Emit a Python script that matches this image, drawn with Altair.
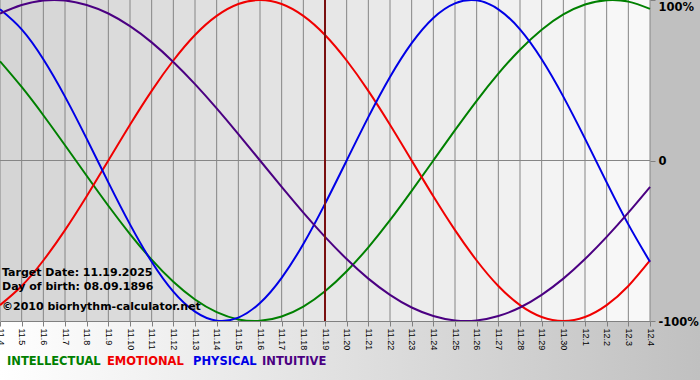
import altair as alt
import pandas as pd

# ---------------- data ----------------
dates = ["11.4", "11.5", "11.6", "11.7", "11.8", "11.9", "11.10", "11.11", "11.12",
         "11.13", "11.14", "11.15", "11.16", "11.17", "11.18", "11.19", "11.20",
         "11.21", "11.22", "11.23", "11.24", "11.25", "11.26", "11.27", "11.28",
         "11.29", "11.30", "12.1", "12.2", "12.3", "12.4"]

intellectual = [0.618, 0.458, 0.282, 0.095, -0.095, -0.282, -0.458, -0.618, -0.756,
                -0.866, -0.945, -0.990, -0.999, -0.972, -0.910, -0.815, -0.690,
                -0.541, -0.372, -0.189, 0.0, 0.189, 0.372, 0.541, 0.690, 0.815,
                0.910, 0.972, 0.999, 0.990, 0.945]
emotional = [-0.901, -0.782, -0.623, -0.434, -0.223, 0.0, 0.223, 0.434, 0.623,
             0.782, 0.901, 0.975, 1.0, 0.975, 0.901, 0.782, 0.623, 0.434, 0.223,
             0.0, -0.223, -0.434, -0.623, -0.782, -0.901, -0.975, -1.0, -0.975,
             -0.901, -0.782, -0.623]
physical = [0.942, 0.817, 0.631, 0.398, 0.136, -0.136, -0.398, -0.631, -0.817,
            -0.942, -0.998, -0.979, -0.888, -0.731, -0.520, -0.270, 0.0, 0.270,
            0.520, 0.731, 0.888, 0.979, 0.998, 0.942, 0.817, 0.631, 0.398, 0.136,
            -0.136, -0.398, -0.631]
intuitive = [0.916, 0.969, 0.997, 0.997, 0.969, 0.916, 0.837, 0.736, 0.614, 0.476,
             0.325, 0.165, 0.0, -0.165, -0.325, -0.476, -0.614, -0.736, -0.837,
             -0.916, -0.969, -0.997, -0.997, -0.969, -0.916, -0.837, -0.736,
             -0.614, -0.476, -0.325, -0.165]

series_names = ["INTELLECTUAL", "EMOTIONAL", "PHYSICAL", "INTUITIVE"]
series_colors = ["#008000", "#f00000", "#0000e6", "#4b0082"]

target_date = "11.19"
info_lines = ["Target Date: 11.19.2025", "Day of birth: 08.09.1896",
              "\u00a92010 biorhythm-calculator.net"]

y_ticks = [-1, 0, 1]
y_tick_labels = ["-100%", "0", "100%"]

# ---------------- layout ----------------
W, H = 650, 321
TOTAL_W, TOTAL_H = 700, 380

rows = []
for name, vals in zip(series_names, [intellectual, emotional, physical, intuitive]):
    for i, (d, v) in enumerate(zip(dates, vals)):
        rows.append({"i": i, "date": d, "value": v, "series": name})
df = pd.DataFrame(rows)

bands = pd.DataFrame({"start": list(range(len(dates) - 1)),
                      "end": list(range(1, len(dates))),
                      "idx": list(range(len(dates) - 1))})
grid_df = pd.DataFrame({"i": list(range(len(dates)))})
zero_df = pd.DataFrame({"value": [0]})
target_df = pd.DataFrame({"i": [dates.index(target_date)]})

xscale = alt.Scale(domain=[0, len(dates) - 1], nice=False, zero=False)
yscale = alt.Scale(domain=[-1, 1], nice=False)

x_label_expr = "[" + ",".join("'%s'" % d for d in dates) + "][datum.value]"
y_label_expr = "".join("datum.value == %s ? '%s' : " % (v, l)
                       for v, l in zip(y_ticks, y_tick_labels)) + "''"


def x_axis():
    return alt.Axis(values=list(range(len(dates))), labelExpr=x_label_expr,
                    labelAngle=90, labelAlign="left", labelBaseline="middle",
                    labelFont="Liberation Sans", labelFontSize=9, labelColor="#000000",
                    labelPadding=2, labelFlush=False, labelOverlap=False,
                    tickColor="#808080", tickSize=5, domainColor="#808080",
                    grid=False, title=None, zindex=1)


def y_axis():
    return alt.Axis(orient="right", values=y_ticks, labelExpr=y_label_expr,
                    labelFont="DejaVu Sans", labelFontWeight="bold", labelFontSize=11.5,
                    labelColor="#000000", labelPadding=3, labelFlush=False,
                    labelOffset={"condition": {"test": "datum.value == 1", "value": 7},
                                 "value": 1},
                    tickColor="#808080", tickSize=5, domain=False, grid=False,
                    title=None, zindex=1)


def X(field):
    return alt.X(field, scale=xscale, axis=x_axis())


def Y(field):
    return alt.Y(field, scale=yscale, axis=y_axis())


bottom_bg = alt.Chart(alt.Data(values=[{}])).mark_rect(
    color=alt.LinearGradient(gradient="linear",
                             stops=[alt.GradientStop(color="#ffffff", offset=0),
                                    alt.GradientStop(color="#c0c0c0", offset=1)],
                             x1=0, x2=1, y1=0, y2=0),
    clip=False).encode(x=alt.value(0), x2=alt.value(TOTAL_W),
                       y=alt.value(H), y2=alt.value(TOTAL_H))

band_layer = alt.Chart(bands).mark_rect().encode(
    x=X("start:Q"),
    x2="end:Q",
    fill=alt.Fill("idx:Q", scale=alt.Scale(domain=[0, len(dates) - 2],
                                           range=["#d5d5d5", "#f8f8f8"]),
                  legend=None))

grid_layer = alt.Chart(grid_df).mark_rule(color="#868686", strokeWidth=1).encode(
    x=X("i:Q"))

zero_layer = alt.Chart(zero_df).mark_rule(color="#868686", strokeWidth=1).encode(
    y=Y("value:Q"))

line_layer = alt.Chart(df).mark_line(interpolate="natural", strokeWidth=2).encode(
    x=X("i:Q"),
    y=Y("value:Q"),
    color=alt.Color("series:N", scale=alt.Scale(domain=series_names, range=series_colors),
                    legend=None),
    order=alt.Order("i:Q"))

target_layer = alt.Chart(target_df).mark_rule(color="#7a1010", strokeWidth=2).encode(
    x=X("i:Q"))

info_y = [273, 287, 307]
info_layers = []
for txt, yy in zip(info_lines, info_y):
    info_layers.append(
        alt.Chart(alt.Data(values=[{"t": txt}])).mark_text(
            align="left", baseline="middle", font="DejaVu Sans", fontWeight="bold",
            fontSize=11, color="#000000", clip=False).encode(
            text="t:N", x=alt.value(2), y=alt.value(yy)))

legend_x = [7, 107, 193, 262]
legend_layers = []
for name, col, xx in zip(series_names, series_colors, legend_x):
    legend_layers.append(
        alt.Chart(alt.Data(values=[{"t": name}])).mark_text(
            align="left", baseline="middle", font="DejaVu Sans", fontWeight="bold",
            fontSize=11.5, color=col, clip=False).encode(
            text="t:N", x=alt.value(xx), y=alt.value(362)))

chart = alt.layer(
    bottom_bg, band_layer, grid_layer, zero_layer, line_layer, target_layer,
    *info_layers, *legend_layers
).resolve_scale(color="independent", fill="independent").properties(
    width=W, height=H,
    background="#c0c0c0",
    padding={"left": 0, "top": 0, "right": TOTAL_W - W, "bottom": TOTAL_H - H},
    autosize=alt.AutoSizeParams(type="none"),
).configure_view(stroke=None)

chart.save("out.html", embed_options={"renderer": "svg", "actions": False})
